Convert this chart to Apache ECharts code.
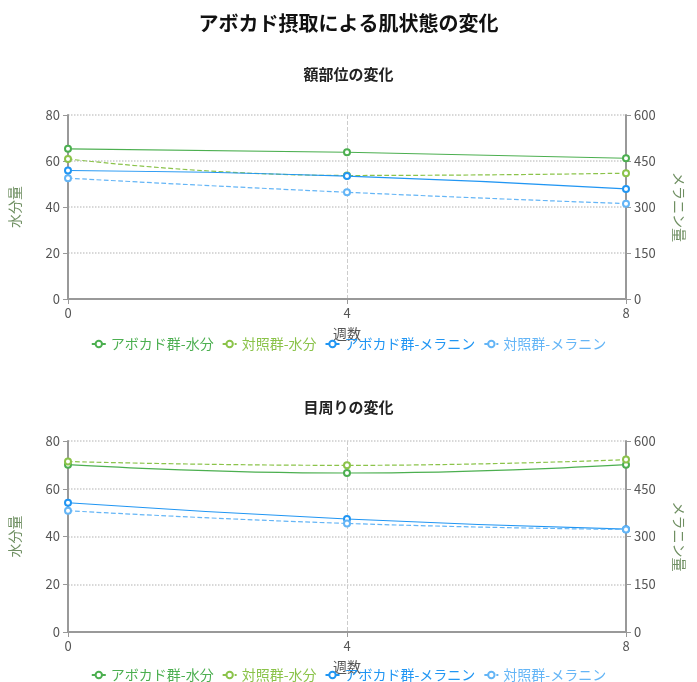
<!DOCTYPE html><html><head><meta charset="utf-8"><script src="https://cdn.jsdelivr.net/npm/echarts@6/dist/echarts.min.js"></script></head><body style="margin:0"><div id="c" style="width:697px;height:682px"></div><script>
const weeks=[0,4,8];
const seriesNames=['アボカド群-水分','対照群-水分','アボカド群-メラニン','対照群-メラニン'];
const foreheadAvoWater=[65.3,63.8,61.2];
const foreheadCtrlWater=[60.9,53.7,54.7];
const foreheadAvoMel=[419,401,359];
const foreheadCtrlMel=[394,348,311];
const eyeAvoWater=[70.1,66.6,70.1];
const eyeCtrlWater=[71.4,69.8,72.2];
const eyeAvoMel=[406,355,323];
const eyeCtrlMel=[381,341,322];
const waterTicks=[0,20,40,60,80];
const melTicks=[0,150,300,450,600];
const colors=['#4caf50','#8bc34a','#2196f3','#64b5f6'];
const font='"Noto Sans CJK JP","Noto Sans",sans-serif';
const grids=[{left:64,right:71,top:115,height:184},{left:64,right:71,top:441,height:191}];
const ax={lineStyle:{color:'#999',width:2}};
function xa(i){return {type:'value',gridIndex:i,min:0,max:8,interval:4,name:'週数',nameLocation:'middle',nameGap:28,
 nameTextStyle:{color:'#555',fontSize:14,fontFamily:font},axisLine:ax,axisTick:{show:true,lineStyle:{color:'#999'}},
 axisLabel:{color:'#555',fontSize:13,fontFamily:font},splitLine:{show:true,lineStyle:{type:'dashed',color:'#ccc'}}};}
function ya(i,right){return {type:'value',gridIndex:i,position:right?'right':'left',min:0,max:right?600:80,interval:right?150:20,
 name:right?'メラニン量':'水分量',nameLocation:'middle',nameGap:right?46:46,nameRotate:right?-90:90,
 nameTextStyle:{color:'#6f8f62',fontSize:14,fontFamily:font},axisLine:{show:true,lineStyle:{color:'#999',width:2}},
 axisTick:{show:true},axisLabel:{color:'#555',fontSize:13,fontFamily:font},
 splitLine:{show:!right,lineStyle:{type:'dotted',color:'#ccc',width:1.5}}};}
function mk(name,data,gi,yi,ci,dashed){return {name,type:'line',xAxisIndex:gi,yAxisIndex:yi,data:weeks.map((w,k)=>[w,data[k]]),
 smooth:true,symbol:'emptyCircle',symbolSize:6,itemStyle:{borderWidth:1},color:colors[ci],lineStyle:{width:1.2,type:dashed?'dashed':'solid',color:colors[ci]}};}
const opt={textStyle:{fontFamily:font},
 title:[{text:'アボカド摂取による肌状態の変化',left:'center',top:8,textStyle:{fontSize:20,fontWeight:'bold',color:'#111',fontFamily:font}},
  {text:'額部位の変化',left:'center',top:62,textStyle:{fontSize:15,fontWeight:'bold',color:'#222',fontFamily:font}},
  {text:'目周りの変化',left:'center',top:395,textStyle:{fontSize:15,fontWeight:'bold',color:'#222',fontFamily:font}}],
 legend:[{top:332,left:'center',itemWidth:14,itemHeight:8,textStyle:{fontSize:14,fontFamily:font}},
  {top:663,left:'center',itemWidth:14,itemHeight:8,textStyle:{fontSize:14,fontFamily:font}}],
 grid:grids,
 xAxis:[xa(0),xa(1)],
 yAxis:[ya(0,false),ya(0,true),ya(1,false),ya(1,true)],
 series:[mk(seriesNames[0],foreheadAvoWater,0,0,0,false),mk(seriesNames[1],foreheadCtrlWater,0,0,1,true),
  mk(seriesNames[2],foreheadAvoMel,0,1,2,false),mk(seriesNames[3],foreheadCtrlMel,0,1,3,true),
  mk(seriesNames[0],eyeAvoWater,1,2,0,false),mk(seriesNames[1],eyeCtrlWater,1,2,1,true),
  mk(seriesNames[2],eyeAvoMel,1,3,2,false),mk(seriesNames[3],eyeCtrlMel,1,3,3,true)]};
opt.legend.forEach(l=>{l.data=seriesNames.map((n,i)=>({name:n,textStyle:{color:colors[i]}}));});
echarts.init(document.getElementById('c')).setOption(opt);
</script></body></html>
